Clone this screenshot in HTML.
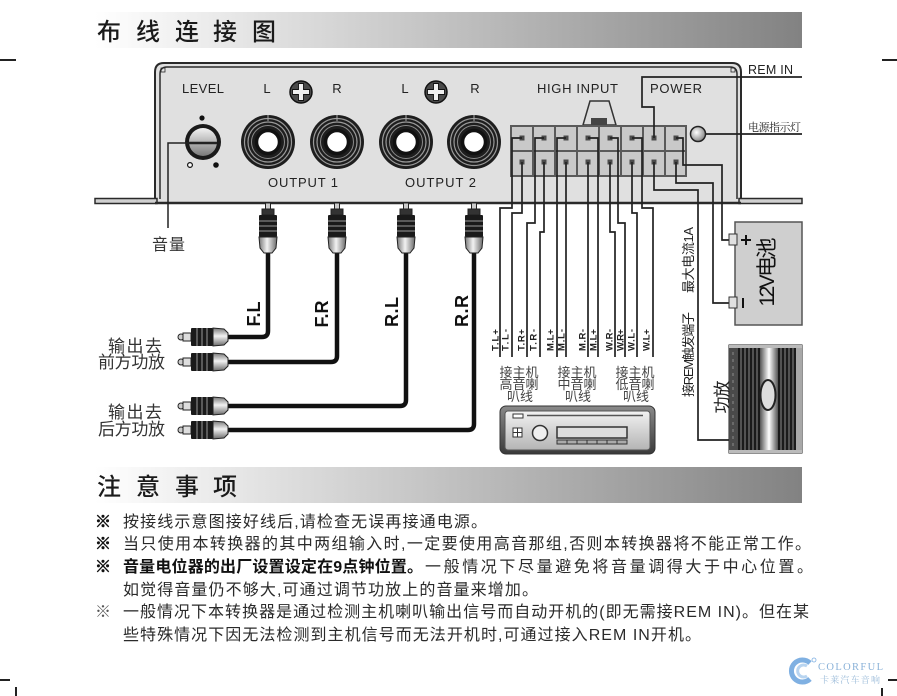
<!DOCTYPE html>
<html><head><meta charset="utf-8">
<style>
html,body{margin:0;padding:0;background:#fff;}
svg{display:block;}
text{font-family:"Liberation Sans","Noto Sans CJK SC",sans-serif;}
</style></head><body>
<svg width="897" height="696" viewBox="0 0 897 696" xmlns="http://www.w3.org/2000/svg">
<defs>
 <linearGradient id="hdr" x1="0" y1="0" x2="1" y2="0">
  <stop offset="0" stop-color="#ffffff"/>
  <stop offset="0.18" stop-color="#e9e9e9"/>
  <stop offset="1" stop-color="#828282"/>
 </linearGradient>
 <linearGradient id="knob" x1="0" y1="0" x2="0" y2="1">
  <stop offset="0" stop-color="#f2f2f2"/><stop offset="1" stop-color="#7a7a7a"/>
 </linearGradient>
 <radialGradient id="led" cx="0.4" cy="0.4" r="0.6">
  <stop offset="0" stop-color="#ffffff"/><stop offset="1" stop-color="#8a8a8a"/>
 </radialGradient>
 <linearGradient id="plugv" x1="0" y1="0" x2="1" y2="0">
  <stop offset="0" stop-color="#777"/><stop offset="0.45" stop-color="#f2f2f2"/><stop offset="1" stop-color="#6a6a6a"/>
 </linearGradient>
 <linearGradient id="plugh" x1="0" y1="0" x2="0" y2="1">
  <stop offset="0" stop-color="#777"/><stop offset="0.45" stop-color="#f2f2f2"/><stop offset="1" stop-color="#6a6a6a"/>
 </linearGradient>
 <linearGradient id="ampmid" x1="0" y1="0" x2="1" y2="0">
  <stop offset="0" stop-color="#555"/><stop offset="0.5" stop-color="#ffffff"/><stop offset="1" stop-color="#555"/>
 </linearGradient>
 <linearGradient id="huo" x1="0" y1="0" x2="0" y2="1">
  <stop offset="0" stop-color="#8a8a8a"/><stop offset="1" stop-color="#3a3a3a"/>
 </linearGradient>
 <linearGradient id="hui" x1="0" y1="0" x2="0" y2="1">
  <stop offset="0" stop-color="#f2f2f2"/><stop offset="1" stop-color="#b4b4b4"/>
 </linearGradient>
 <g id="jack">
  <circle r="27" fill="#1e1e1e"/>
  <circle r="23.5" fill="none" stroke="#9a9a9a" stroke-width="1.2"/>
  <circle r="20" fill="none" stroke="#9a9a9a" stroke-width="1.2"/>
  <circle r="16.5" fill="none" stroke="#8a8a8a" stroke-width="1"/>
  <circle r="11.5" fill="#fff" stroke="#111" stroke-width="3.5"/>
  <line x1="0" y1="-27" x2="0" y2="-21" stroke="#aaa" stroke-width="1"/>
 </g>
 <g id="screw">
  <circle r="11" fill="#4a4a4a" stroke="#111" stroke-width="1.5"/>
  <path d="M-2.5 -8.5 H2.5 V-2.5 H8.5 V2.5 H2.5 V8.5 H-2.5 V2.5 H-8.5 V-2.5 H-2.5 Z" fill="#f0f0f0" stroke="#111" stroke-width="0.9"/>
 </g>
 <g id="pv">
  <rect x="-2.5" y="203" width="5" height="8" fill="#ccc" stroke="#222" stroke-width="1"/>
  <rect x="-6" y="209" width="12" height="6" fill="#333" stroke="#222" stroke-width="1"/>
  <rect x="-9" y="215" width="18" height="22" rx="1" fill="#1a1a1a"/>
  <line x1="-9" x2="9" y1="221" y2="221" stroke="#999" stroke-width="1"/>
  <line x1="-9" x2="9" y1="226" y2="226" stroke="#999" stroke-width="1"/>
  <line x1="-9" x2="9" y1="231" y2="231" stroke="#999" stroke-width="1"/>
  <path d="M-9 237 H9 L8 248 L4 253 H-4 L-8 248 Z" fill="url(#plugv)" stroke="#222" stroke-width="1"/>
 </g>
 <g id="ph">
  <circle cx="181" cy="0" r="3" fill="#ccc" stroke="#222" stroke-width="1"/>
  <rect x="183" y="-4" width="8" height="8" fill="#ddd" stroke="#222" stroke-width="1"/>
  <rect x="191" y="-9" width="22" height="18" rx="1" fill="#1a1a1a"/>
  <line x1="197" x2="197" y1="-9" y2="9" stroke="#999" stroke-width="1"/>
  <line x1="202" x2="202" y1="-9" y2="9" stroke="#999" stroke-width="1"/>
  <line x1="207" x2="207" y1="-9" y2="9" stroke="#999" stroke-width="1"/>
  <path d="M213 -9 V9 L224 8 L228 4 V-4 L224 -8 Z" fill="url(#plugh)" stroke="#222" stroke-width="1"/>
 </g>
</defs>

<!-- registration marks -->
<g stroke="#222" stroke-width="2">
 <line x1="0" y1="60" x2="16" y2="60"/>
 <line x1="882" y1="60" x2="897" y2="60"/>
 <line x1="0" y1="680" x2="10" y2="680"/>
 <line x1="16" y1="687" x2="16" y2="696"/>
 <line x1="888" y1="680" x2="897" y2="680"/>
 <line x1="882" y1="688" x2="882" y2="696"/>
</g>

<!-- header 1 -->
<rect x="95" y="12" width="707" height="36" fill="url(#hdr)"/>
<g font-size="24" fill="#1a1a1a" font-weight="500">
 <text x="97" y="40">布</text>
 <text x="136" y="40">线</text>
 <text x="175" y="40">连</text>
 <text x="213" y="40">接</text>
 <text x="252" y="40">图</text>
</g>

<!-- device body -->
<path d="M155 203 V72 Q155 63 164 63 H732 Q741 63 741 72 V203 Z" fill="#e0e0e0" stroke="#2a2a2a" stroke-width="2"/>
<path d="M160 199 V74 Q160 67 167 67 H730 Q737 67 737 74 V199" fill="none" stroke="#2a2a2a" stroke-width="1.5"/>
<rect x="95" y="198.5" width="62" height="5" fill="#d0d0d0" stroke="#2a2a2a" stroke-width="1.5"/>
<rect x="739" y="198.5" width="63" height="5" fill="#d0d0d0" stroke="#2a2a2a" stroke-width="1.5"/>
<line x1="155" y1="203" x2="741" y2="203" stroke="#2a2a2a" stroke-width="2.5"/>
<rect x="161" y="68" width="4" height="4" fill="none" stroke="#2a2a2a" stroke-width="0.8"/>
<rect x="731" y="68" width="4" height="4" fill="none" stroke="#2a2a2a" stroke-width="0.8"/>

<!-- device labels -->
<g font-size="13" fill="#222">
 <text x="182" y="93" textLength="42">LEVEL</text>
 <text x="267" y="93" text-anchor="middle">L</text>
 <text x="337" y="93" text-anchor="middle">R</text>
 <text x="405" y="93" text-anchor="middle">L</text>
 <text x="475" y="93" text-anchor="middle">R</text>
 <text x="537" y="93" textLength="81">HIGH INPUT</text>
 <text x="650" y="93" textLength="52">POWER</text>
 <text x="268" y="187" textLength="70">OUTPUT 1</text>
 <text x="405" y="187" textLength="71">OUTPUT 2</text>
</g>
<use href="#screw" x="301" y="92"/>
<use href="#screw" x="436" y="92"/>

<!-- knob -->
<circle cx="202" cy="118" r="2.6" fill="#111"/>
<circle cx="190" cy="165" r="2.4" fill="#fff" stroke="#111" stroke-width="1.2"/>
<circle cx="216" cy="165" r="2.8" fill="#111"/>
<circle cx="203" cy="142" r="18" fill="#1a1a1a"/>
<circle cx="203" cy="142" r="14" fill="url(#knob)"/>
<line x1="189" y1="143" x2="217" y2="143" stroke="#222" stroke-width="2.5"/>
<path d="M213 143 H168 V228" fill="none" stroke="#222" stroke-width="1.5"/>
<text x="152" y="250" font-size="16" fill="#333" textLength="33">音量</text>

<!-- jacks -->
<use href="#jack" x="268" y="142"/>
<use href="#jack" x="337" y="142"/>
<use href="#jack" x="406" y="142"/>
<use href="#jack" x="474" y="142"/>

<!-- cables -->
<g fill="none" stroke="#111" stroke-width="4.5" stroke-linejoin="round">
 <path d="M268 253 V331 Q268 337 262 337 H226"/>
 <path d="M337 253 V356 Q337 362 331 362 H226"/>
 <path d="M406 253 V400 Q406 406 400 406 H226"/>
 <path d="M474 253 V424 Q474 430 468 430 H226"/>
</g>
<use href="#pv" x="268" y="0"/>
<use href="#pv" x="337" y="0"/>
<use href="#pv" x="406" y="0"/>
<use href="#pv" x="474" y="0"/>
<use href="#ph" x="0" y="337"/>
<use href="#ph" x="0" y="362"/>
<use href="#ph" x="0" y="406"/>
<use href="#ph" x="0" y="430"/>

<g font-size="18" font-weight="bold" fill="#111">
 <text transform="translate(260,314) rotate(-90)" text-anchor="middle" textLength="25">F.L</text>
 <text transform="translate(328,314) rotate(-90)" text-anchor="middle" textLength="27">F.R</text>
 <text transform="translate(398,312) rotate(-90)" text-anchor="middle" textLength="30">R.L</text>
 <text transform="translate(468,311) rotate(-90)" text-anchor="middle" textLength="32">R.R</text>
</g>
<g font-size="17" fill="#333">
 <text x="108" y="352" textLength="54">输出去</text>
 <text x="98" y="368" textLength="67">前方功放</text>
 <text x="108" y="418" textLength="54">输出去</text>
 <text x="98" y="435" textLength="67">后方功放</text>
</g>

<!-- high input connector -->
<path d="M583 125 L590 101 L609 101 L616 125 Z" fill="#dcdcdc" stroke="#333" stroke-width="1.5"/>
<rect x="591" y="118" width="16" height="7" fill="#444"/>
<rect x="510" y="125" width="177" height="52" fill="#5a5a5a"/>
<g fill="#c9c9c9">
 <rect x="512" y="127" width="20" height="23"/><rect x="512" y="152" width="20" height="23"/>
 <rect x="534" y="127" width="20" height="23"/><rect x="534" y="152" width="20" height="23"/>
 <rect x="556" y="127" width="20" height="23"/><rect x="556" y="152" width="20" height="23"/>
 <rect x="578" y="127" width="20" height="23"/><rect x="578" y="152" width="20" height="23"/>
 <rect x="600" y="127" width="20" height="23"/><rect x="600" y="152" width="20" height="23"/>
 <rect x="622" y="127" width="20" height="23"/><rect x="622" y="152" width="20" height="23"/>
 <rect x="644" y="127" width="20" height="23"/><rect x="644" y="152" width="20" height="23"/>
 <rect x="666" y="127" width="19" height="23"/><rect x="666" y="152" width="19" height="23"/>
</g>
<g fill="#4a4a4a">
 <rect x="519.5" y="135.5" width="5" height="5"/><rect x="519.5" y="159.5" width="5" height="5"/>
 <rect x="541.5" y="135.5" width="5" height="5"/><rect x="541.5" y="159.5" width="5" height="5"/>
 <rect x="563.5" y="135.5" width="5" height="5"/><rect x="563.5" y="159.5" width="5" height="5"/>
 <rect x="585.5" y="135.5" width="5" height="5"/><rect x="585.5" y="159.5" width="5" height="5"/>
 <rect x="607.5" y="135.5" width="5" height="5"/><rect x="607.5" y="159.5" width="5" height="5"/>
 <rect x="629.5" y="135.5" width="5" height="5"/><rect x="629.5" y="159.5" width="5" height="5"/>
 <rect x="651.5" y="135.5" width="5" height="5"/><rect x="651.5" y="159.5" width="5" height="5"/>
 <rect x="673.5" y="135.5" width="5" height="5"/><rect x="673.5" y="159.5" width="5" height="5"/>
</g>

<!-- wires -->
<g fill="none" stroke="#222" stroke-width="1.7">
 <path d="M522 138 H512 V208 H500 V357"/>
 <path d="M522 162 V213 H512 V357"/>
 <path d="M544 138 H535 V223 H527 V357"/>
 <path d="M544 162 V232 H540 V357"/>
 <path d="M566 138 H557 V357"/>
 <path d="M566 162 V357"/>
 <path d="M588 162 V357"/>
 <path d="M588 138 H598 V357"/>
 <path d="M610 162 V232 H615 V357"/>
 <path d="M610 138 H618 V223 H625 V357"/>
 <path d="M632 162 V213 H637 V357"/>
 <path d="M632 138 H642 V208 H653 V357"/>
 <path d="M654 138 V107 H642 V77 H802"/>
 <path d="M654 162 V190 H698 V440 H729"/>
 <path d="M676 162 V183 H713 V303 H737"/>
 <path d="M676 138 H683 V165 H722 V240 H737"/>
 <path d="M706 134 H802"/>
</g>
<circle cx="698" cy="134" r="7.5" fill="url(#led)" stroke="#222" stroke-width="1.5"/>
<text x="748" y="74" font-size="12.5" fill="#222" textLength="45">REM IN</text>
<text x="748" y="131" font-size="11" fill="#222" textLength="53" style="font-family:'Liberation Serif','Noto Serif CJK SC',serif">电源指示灯</text>

<!-- wire labels -->
<g font-size="9.5" font-weight="bold" fill="#222">
 <text transform="translate(498.5,340) rotate(-90)" text-anchor="middle" textLength="22">T.L+</text>
 <text transform="translate(508.5,340) rotate(-90)" text-anchor="middle" textLength="22">T.L-</text>
 <text transform="translate(524.5,340) rotate(-90)" text-anchor="middle" textLength="22">T.R+</text>
 <text transform="translate(536.5,340) rotate(-90)" text-anchor="middle" textLength="22">T.R-</text>
 <text transform="translate(553.5,340) rotate(-90)" text-anchor="middle" textLength="22">M.L+</text>
 <text transform="translate(564.5,340) rotate(-90)" text-anchor="middle" textLength="22">M.L-</text>
 <text transform="translate(585.5,340) rotate(-90)" text-anchor="middle" textLength="22">M.R-</text>
 <text transform="translate(596.5,340) rotate(-90)" text-anchor="middle" textLength="22">M.L+</text>
 <text transform="translate(612.5,340) rotate(-90)" text-anchor="middle" textLength="22">W.R-</text>
 <text transform="translate(623.5,340) rotate(-90)" text-anchor="middle" textLength="22">W.R+</text>
 <text transform="translate(634.5,340) rotate(-90)" text-anchor="middle" textLength="22">W.L-</text>
 <text transform="translate(649.5,340) rotate(-90)" text-anchor="middle" textLength="22">W.L+</text>
</g>
<g font-size="13" fill="#444" text-anchor="middle">
 <text x="519" y="377">接主机</text>
 <text x="519" y="389">高音喇</text>
 <text x="520" y="401">叭线</text>
 <text x="577" y="377">接主机</text>
 <text x="577" y="389">中音喇</text>
 <text x="578" y="401">叭线</text>
 <text x="635" y="377">接主机</text>
 <text x="635" y="389">低音喇</text>
 <text x="636" y="401">叭线</text>
</g>

<!-- head unit -->
<rect x="500" y="406" width="155" height="48" rx="6" fill="url(#huo)" stroke="#333" stroke-width="1"/>
<rect x="505" y="411" width="145" height="39" rx="3" fill="url(#hui)" stroke="#555" stroke-width="1"/>
<rect x="513" y="414" width="10" height="4" fill="#fff" stroke="#333" stroke-width="1"/>
<line x1="527" y1="415.5" x2="643" y2="415.5" stroke="#555" stroke-width="1.5"/>
<rect x="513" y="428" width="9" height="9" fill="#fff" stroke="#333" stroke-width="1"/>
<line x1="517.5" y1="428" x2="517.5" y2="437" stroke="#333"/>
<line x1="513" y1="432.5" x2="522" y2="432.5" stroke="#333"/>
<circle cx="540" cy="433" r="7.5" fill="#eee" stroke="#333" stroke-width="1.5"/>
<rect x="557" y="427" width="70" height="11" fill="#ddd" stroke="#333" stroke-width="1.5"/>
<rect x="557" y="440" width="70" height="4" fill="#aaa" stroke="#333" stroke-width="1"/>
<g stroke="#333" stroke-width="1"><line x1="567" y1="440" x2="567" y2="444"/><line x1="577" y1="440" x2="577" y2="444"/><line x1="587" y1="440" x2="587" y2="444"/><line x1="597" y1="440" x2="597" y2="444"/><line x1="607" y1="440" x2="607" y2="444"/><line x1="617" y1="440" x2="617" y2="444"/></g>

<!-- battery -->
<rect x="735" y="222" width="67" height="103" fill="#cfcfcf" stroke="#555" stroke-width="1.5"/>
<rect x="729" y="234" width="8" height="11" fill="#e0e0e0" stroke="#333" stroke-width="1"/>
<rect x="729" y="297" width="8" height="11" fill="#e0e0e0" stroke="#333" stroke-width="1"/>
<path d="M741 240 H751 M746 235 V245" stroke="#111" stroke-width="2"/>
<path d="M743 298 V308" stroke="#111" stroke-width="2"/>
<text transform="translate(774,272) rotate(-90)" text-anchor="middle" font-size="21" fill="#111" textLength="69">12V电池</text>

<text transform="translate(693,397) rotate(-90)" font-size="13" fill="#222" textLength="85">接REM触发端子</text>
<text transform="translate(693,293) rotate(-90)" font-size="13" fill="#222" textLength="66">最大电流1A</text>

<!-- amplifier -->
<rect x="729" y="345" width="73" height="108" fill="#1a1a1a" stroke="#222" stroke-width="1"/>
<rect x="729" y="345" width="9" height="108" fill="#4a4a4a"/>
<g stroke="#999" stroke-width="0.8"><line x1="733" y1="352" x2="733" y2="446" stroke-dasharray="3 4"/></g>
<rect x="760" y="346" width="18" height="106" fill="url(#ampmid)"/>
<g stroke="#8a8a8a" stroke-width="1">
 <line x1="741" y1="346" x2="741" y2="452"/><line x1="745" y1="346" x2="745" y2="452"/>
 <line x1="749" y1="346" x2="749" y2="452"/><line x1="753" y1="346" x2="753" y2="452"/>
 <line x1="757" y1="346" x2="757" y2="452"/>
 <line x1="781" y1="346" x2="781" y2="452"/><line x1="785" y1="346" x2="785" y2="452"/>
 <line x1="789" y1="346" x2="789" y2="452"/><line x1="793" y1="346" x2="793" y2="452"/>
</g>
<rect x="796" y="346" width="6" height="106" fill="#a8a8a8"/>
<rect x="729" y="345" width="73" height="3" fill="#bbb"/>
<rect x="729" y="450" width="73" height="3" fill="#bbb"/>
<ellipse cx="768" cy="395" rx="7.5" ry="15" fill="#ddd" stroke="#222" stroke-width="2"/>
<text transform="translate(728,397) rotate(-90)" text-anchor="middle" font-size="17" fill="#222" textLength="33">功放</text>

<!-- header 2 -->
<rect x="95" y="467" width="707" height="36" fill="url(#hdr)"/>
<g font-size="24" fill="#1a1a1a" font-weight="500">
 <text x="97" y="495">注</text>
 <text x="136" y="495">意</text>
 <text x="175" y="495">事</text>
 <text x="213" y="495">项</text>
</g>

<!-- notes -->
<g font-size="16" fill="#2a2a2a">
 <text x="95" y="527" font-weight="bold" stroke="#111" stroke-width="0.7" fill="#111">※</text>
 <text x="123" y="527" textLength="364">按接线示意图接好线后,请检查无误再接通电源。</text>
 <text x="95" y="549" font-weight="bold" stroke="#111" stroke-width="0.7" fill="#111">※</text>
 <text x="123" y="549" textLength="688">当只使用本转换器的其中两组输入时,一定要使用高音那组,否则本转换器将不能正常工作。</text>
 <text x="95" y="572" font-weight="bold" stroke="#111" stroke-width="0.7" fill="#111">※</text>
 <text x="123" y="572" textLength="300" font-weight="bold" fill="#111">音量电位器的出厂设置设定在9点钟位置。</text>
 <text x="425" y="572" textLength="388">一般情况下尽量避免将音量调得大于中心位置。</text>
 <text x="123" y="595" textLength="415">如觉得音量仍不够大,可通过调节功放上的音量来增加。</text>
 <text x="95" y="617" fill="#555">※</text>
 <text x="123" y="617" textLength="686">一般情况下本转换器是通过检测主机喇叭输出信号而自动开机的(即无需接REM IN)。但在某</text>
 <text x="123" y="640" textLength="578">些特殊情况下因无法检测到主机信号而无法开机时,可通过接入REM IN开机。</text>
</g>

<!-- logo -->
<path d="M810 663 A11 11 0 1 0 810 679" fill="none" stroke="#7fb0e2" stroke-width="5"/>
<path d="M807 666 A6 6 0 1 0 807 676" fill="none" stroke="#b8d4f0" stroke-width="3"/>
<circle cx="814" cy="660" r="2" fill="none" stroke="#7fb0e2" stroke-width="0.8"/>
<text x="818" y="670" font-size="10.5" fill="#8ab2d8" textLength="65" style="font-family:'Liberation Serif',serif">COLORFUL</text>
<text x="820" y="683" font-size="9" fill="#9bbbd9" textLength="60" style="font-family:'Liberation Serif','Noto Serif CJK SC',serif">卡莱汽车音响</text>
</svg>
</body></html>
